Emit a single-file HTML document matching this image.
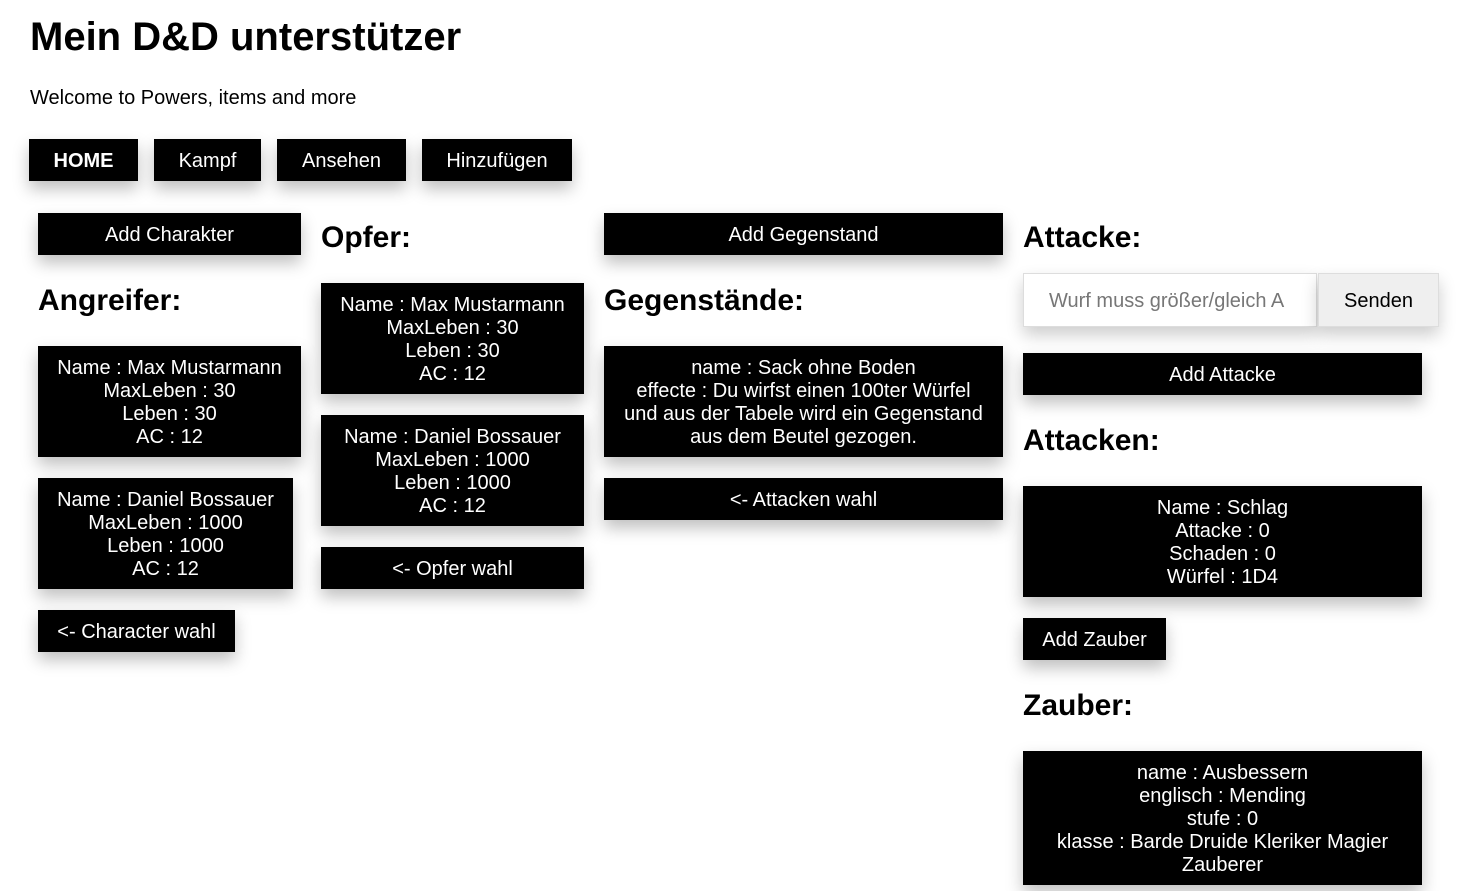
<!DOCTYPE html>
<html><head><meta charset="utf-8"><style>
body{margin:0;width:1469px;height:891px;background:#fff;font-family:"Liberation Sans",Arial,sans-serif;position:relative;overflow:hidden;color:#000}
.a{position:absolute}
.b{position:absolute;background:#000;color:#fff;font-size:20px;display:flex;align-items:center;justify-content:center;text-align:center;line-height:23px;box-shadow:0 8px 16px rgba(0,0,0,0.25);padding-top:2px;box-sizing:border-box}
.h{position:absolute;font-weight:bold;font-size:30px;line-height:30px;margin-top:-14px}
</style></head><body>
<div class="a" style="left:30px;top:15px;font-size:40px;font-weight:bold;line-height:44px">Mein D&amp;D unterstützer</div>
<div class="a" style="left:30px;top:87px;font-size:20px;line-height:22px">Welcome to Powers, items and more</div>
<div class="b" style="left:29px;top:139px;width:109px;height:42px;font-weight:bold">HOME</div>
<div class="b" style="left:154px;top:139px;width:107px;height:42px">Kampf</div>
<div class="b" style="left:277px;top:139px;width:129px;height:42px">Ansehen</div>
<div class="b" style="left:422px;top:139px;width:150px;height:42px">Hinzufügen</div>

<div class="b" style="left:38px;top:213px;width:263px;height:42px">Add Charakter</div>
<div class="h" style="left:38px;top:300px">Angreifer:</div>
<div class="b" style="left:38px;top:346px;width:263px;height:111px">Name : Max Mustarmann<br>MaxLeben : 30<br>Leben : 30<br>AC : 12</div>
<div class="b" style="left:38px;top:478px;width:255px;height:111px">Name : Daniel Bossauer<br>MaxLeben : 1000<br>Leben : 1000<br>AC : 12</div>
<div class="b" style="left:38px;top:610px;width:197px;height:42px">&lt;- Character wahl</div>

<div class="h" style="left:321px;top:237px">Opfer:</div>
<div class="b" style="left:321px;top:283px;width:263px;height:111px">Name : Max Mustarmann<br>MaxLeben : 30<br>Leben : 30<br>AC : 12</div>
<div class="b" style="left:321px;top:415px;width:263px;height:111px">Name : Daniel Bossauer<br>MaxLeben : 1000<br>Leben : 1000<br>AC : 12</div>
<div class="b" style="left:321px;top:547px;width:263px;height:42px">&lt;- Opfer wahl</div>

<div class="b" style="left:604px;top:213px;width:399px;height:42px">Add Gegenstand</div>
<div class="h" style="left:604px;top:300px">Gegenstände:</div>
<div class="b" style="left:604px;top:346px;width:399px;height:111px">name : Sack ohne Boden<br>effecte : Du wirfst einen 100ter Würfel<br>und aus der Tabele wird ein Gegenstand<br>aus dem Beutel gezogen.</div>
<div class="b" style="left:604px;top:478px;width:399px;height:42px">&lt;- Attacken wahl</div>

<div class="h" style="left:1023px;top:237px">Attacke:</div>
<div class="a" style="left:1023px;top:273px;width:294px;height:54px;border:1px solid #ddd;box-sizing:border-box;box-shadow:0 8px 16px rgba(0,0,0,0.2);font-size:20px;color:#777;line-height:54px;padding-left:25px;white-space:nowrap;overflow:hidden;background:#fff">Wurf muss größer/gleich A</div>
<div class="a" style="left:1318px;top:273px;width:121px;height:54px;border:1px solid #ddd;box-sizing:border-box;background:#efefef;box-shadow:0 8px 16px rgba(0,0,0,0.2);font-size:20px;line-height:54px;text-align:center">Senden</div>
<div class="b" style="left:1023px;top:353px;width:399px;height:42px">Add Attacke</div>
<div class="h" style="left:1023px;top:440px">Attacken:</div>
<div class="b" style="left:1023px;top:486px;width:399px;height:111px">Name : Schlag<br>Attacke : 0<br>Schaden : 0<br>Würfel : 1D4</div>
<div class="b" style="left:1023px;top:618px;width:143px;height:42px">Add Zauber</div>
<div class="h" style="left:1023px;top:705px">Zauber:</div>
<div class="b" style="left:1023px;top:751px;width:399px;height:134px">name : Ausbessern<br>englisch : Mending<br>stufe : 0<br>klasse : Barde Druide Kleriker Magier<br>Zauberer</div>
</body></html>
